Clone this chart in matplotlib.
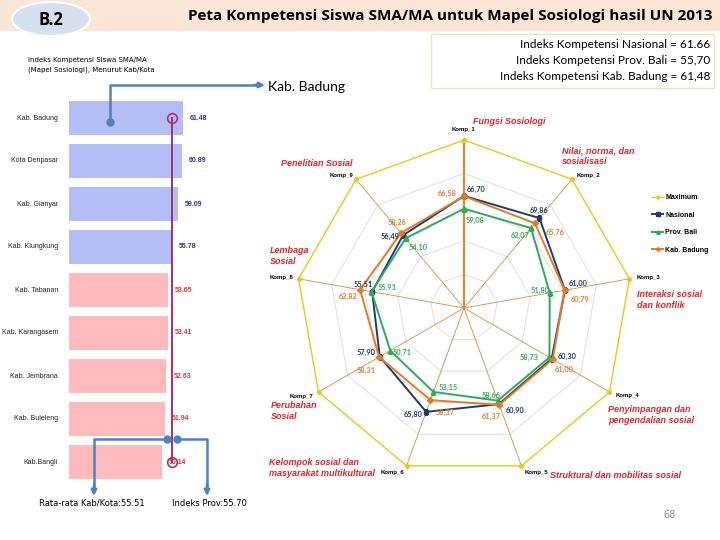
import numpy as np
import matplotlib.pyplot as plt
from matplotlib.patches import Ellipse, Rectangle

W, H = 720, 540

# --- bar chart data (Indeks per Kab/Kota) ---
regions = ["Kab. Badung", "Kota Denpasar", "Kab. Gianyar", "Kab. Klungkung",
           "Kab. Tabanan", "Kab. Karangasem", "Kab. Jembrana", "Kab. Buleleng",
           "Kab.Bangli"]
scores = [61.48, 60.89, 59.09, 55.78, 53.65, 53.41, 52.63, 51.94, 50.14]
prov_index = 55.70
avg_kab = 55.51

# --- radar data ---
komp = ["Komp_1", "Komp_2", "Komp_3", "Komp_4", "Komp_5",
        "Komp_6", "Komp_7", "Komp_8", "Komp_9"]
topics = ["Fungsi Sosiologi", "Nilai, norma, dan\nsosialisasi",
          "Interaksi sosial\ndan konflik", "Penyimpangan dan\npengendalian sosial",
          "Struktural dan mobilitas sosial",
          "Kelompok sosial dan\nmasyarakat multikultural",
          "Perubahan\nSosial", "Lembaga\nSosial", "Penelitian Sosial"]
maximum = [100, 100, 100, 100, 100, 100, 100, 100, 100]
nasional = [66.70, 69.86, 61.00, 60.30, 60.90, 65.80, 57.90, 55.51, 56.49]
bali = [59.08, 62.07, 51.80, 58.73, 58.66, 53.15, 50.71, 55.91, 54.10]
badung = [66.58, 65.76, 60.79, 61.00, 61.37, 58.37, 58.31, 62.82, 58.26]

# label offsets in pixels (dx, dy with y pointing down)
nas_off = [(12, -6), (0, -8), (13, -7), (15, -2), (16, 6), (-13, 3), (-14, -4), (-9, -7), (-13, 1)]
bali_off = [(11, 12), (-11, 7), (-10, -2), (-20, 0), (-7, -5), (15, -4), (12, 2), (16, -4), (13, 9)]
bad_off = [(-17, -3), (20, 9), (16, 9), (11, 10), (-8, 12), (15, 12), (-13, 13), (-12, 7), (-4, -11)]
komp_off = [(0, -11), (17, -4), (19, -1), (18, 4), (15, 7), (-14, 7), (-17, 4), (-17, -1), (-15, -4)]
topic_pos = [(473, 121), (562, 156), (637, 300), (608, 415), (550, 476),
             (269, 468), (271, 411), (270, 256), (281, 164)]


def px(x, y, w=0, h=0):
    # pixel box (top-left origin) -> figure fraction rect
    return [x / W, 1 - (y + h) / H, w / W, h / H]


fig = plt.figure(figsize=(7.2, 5.4), dpi=100)
fig.patch.set_facecolor("white")

# ---------- bar chart ----------
axb = fig.add_axes(px(69, 96.5, 148, 387))
ypos = np.arange(len(regions))
colors = ["#B3BEF6" if s > prov_index else "#FFBABD" for s in scores]
axb.barh(ypos, scores, height=0.8, color=colors, zorder=1)
axb.set_xlim(0, 80)
axb.set_ylim(8.5, -0.5)
axb.axis("off")
for i, (r, s) in enumerate(zip(regions, scores)):
    tc = "#3030B0" if s > prov_index else "#E03535"
    axb.annotate(f"{s:.2f}", (s, i), xytext=(7, 0), textcoords="offset pixels",
                 ha="left", va="center", fontsize=5, fontweight="bold", color=tc,
                 family="Liberation Sans", annotation_clip=False)
    axb.annotate(r, (0, i), xytext=(-11, 0), textcoords="offset pixels",
                 ha="right", va="center", fontsize=5, color="#222222",
                 family="Liberation Sans", annotation_clip=False)
axb.plot([prov_index, prov_index], [0, len(regions) - 1], color="#A8305E", lw=1.4, zorder=3)
axb.plot([prov_index, prov_index], [0, len(regions) - 1], "o", mfc="none", mec="#B0306A",
         ms=7, mew=1.2, zorder=4, clip_on=False)

# ---------- radar chart ----------
R = 168
axr = fig.add_axes(px(464 - R, 308 - R, 2 * R, 2 * R), projection="polar")
axr.set_theta_zero_location("N")
axr.set_theta_direction(-1)
axr.set_ylim(0, 100)
axr.axis("off")

theta = np.deg2rad(np.arange(len(komp)) * 360 / len(komp))
tc_ = np.append(theta, theta[0])


def closed(v):
    return np.append(v, v[0])


for lvl in [20, 40, 60, 80]:
    axr.plot(tc_, [lvl] * len(tc_), color="#D9D9D9", lw=0.6, zorder=1)
for i, t in enumerate(theta):
    axr.plot([t, t], [0, 100], color="#D98A3C", lw=1.6 if i == 0 else 0.6, zorder=2)

l_max, = axr.plot(tc_, closed(maximum), color="#F2C318", lw=1.0, marker="o", ms=2.5,
                  zorder=3, clip_on=False, label="Maximum")
l_nas, = axr.plot(tc_, closed(nasional), color="#1F3B6E", lw=1.4, marker="s", ms=3.5,
                  zorder=4, label="Nasional")
l_bal, = axr.plot(tc_, closed(bali), color="#2EAA5C", lw=1.4, marker="^", ms=3.5,
                  zorder=5, label="Prov. Bali")
l_bad, = axr.plot(tc_, closed(badung), color="#E07B28", lw=1.4, marker="D", ms=3,
                  zorder=6, label="Kab. Badung")

for vals, offs, col in [(nasional, nas_off, "#1F3B6E"), (bali, bali_off, "#2EAA5C"),
                        (badung, bad_off, "#E07B28")]:
    for t, v, (dx, dy) in zip(theta, vals, offs):
        axr.annotate(f"{v:.2f}".replace(".", ","), (t, v), xytext=(dx, -dy),
                     textcoords="offset pixels", ha="center", va="center",
                     fontsize=5.3, fontweight="bold", color=col, family="Lato",
                     annotation_clip=False, zorder=7)
for t, k, (dx, dy) in zip(theta, komp, komp_off):
    axr.annotate(k, (t, 100), xytext=(dx, -dy), textcoords="offset pixels",
                 ha="center", va="center", fontsize=4.3, fontweight="bold",
                 color="black", family="Liberation Sans", annotation_clip=False)

fig.legend(handles=[l_max, l_nas, l_bal, l_bad], loc="upper left",
           bbox_to_anchor=(646 / W, 1 - 188 / H), frameon=False,
           prop={"family": "Liberation Sans", "size": 5, "weight": "bold"},
           labelspacing=1.5, handlelength=1.6, handletextpad=0.3, markerscale=0.7)

# ---------- slide decorations ----------
ov = fig.add_axes([0, 0, 1, 1], zorder=5)
ov.set_xlim(0, W)
ov.set_ylim(H, 0)
ov.axis("off")

ov.add_patch(Rectangle((0, 0), W, 30, color="#FBE5D6", zorder=0))
ov.add_patch(Ellipse((51, 19), 78, 34, facecolor="#D7E0EE", edgecolor="white", lw=1.5))
ov.text(51, 20, "B.2", ha="center", va="center", fontsize=12, fontweight="bold",
        family="Open Sans")
ov.text(712, 16, "Peta Kompetensi Siswa SMA/MA untuk Mapel Sosiologi hasil UN 2013",
        ha="right", va="center", fontsize=11, fontweight="bold", family="Open Sans")

ov.add_patch(Rectangle((431, 34), 283, 54, facecolor="white", edgecolor="#EFE4BC", lw=1))
for yy, s in zip([45, 61, 76], ["Indeks Kompetensi Nasional = 61.66",
                                "Indeks Kompetensi Prov. Bali = 55,70",
                                "Indeks Kompetensi Kab. Badung = 61,48"]):
    ov.text(710, yy, s, ha="right", va="center", fontsize=8.5, family="Lato")

ov.text(28, 60, "Indeks Kompetensi Siswa SMA/MA", ha="left", va="center", fontsize=5)
ov.text(28, 70, "(Mapel Sosiologi), Menurut Kab/Kota", ha="left", va="center", fontsize=5)

blue = "#4F81BD"
arrow = dict(arrowstyle="-|>", color=blue, lw=1.8, mutation_scale=8, shrinkA=0, shrinkB=0)
# Kab. Badung pointer
ov.plot([110, 110, 256], [122, 85, 85], color=blue, lw=1.8)
ov.plot([110], [122], "o", color=blue, ms=5)
ov.annotate("", xy=(265, 85), xytext=(254, 85), arrowprops=arrow)
ov.text(268, 87, "Kab. Badung", ha="left", va="center", fontsize=10, family="Lato")
# average pointers
ov.plot([167, 94, 94], [439, 439, 486], color=blue, lw=1.8)
ov.plot([177, 207, 207], [439, 439, 486], color=blue, lw=1.8)
ov.plot([167, 177], [439, 439], "o", color=blue, ms=5)
ov.annotate("", xy=(94, 496), xytext=(94, 484), arrowprops=arrow)
ov.annotate("", xy=(207, 496), xytext=(207, 484), arrowprops=arrow)
ov.text(92, 503, f"Rata-rata Kab/Kota:{avg_kab:.2f}", ha="center", va="center", fontsize=6)
ov.text(209, 503, f"Indeks Prov:{prov_index:.2f}", ha="center", va="center", fontsize=6)

for (x, y), s in zip(topic_pos, topics):
    ov.text(x, y, s, ha="left", va="center", fontsize=6.5, fontweight="bold",
            fontstyle="italic", color="#E3242B", family="Liberation Sans", linespacing=1.15)

ov.text(670, 515, "68", ha="center", va="center", fontsize=7, color="#888888")

fig.savefig("out.png", dpi=100)
